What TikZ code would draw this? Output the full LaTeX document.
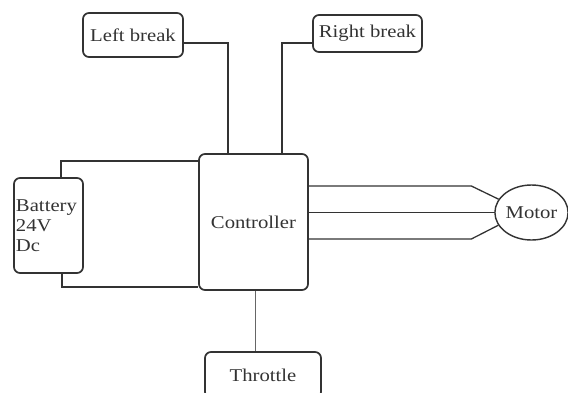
\documentclass[tikz,border=0pt]{standalone}
\usepackage{fontspec}
\setmainfont{Liberation Serif}[FakeStretch=1.15]
\usetikzlibrary{shapes.geometric}
\begin{document}
\begin{tikzpicture}[x=1pt,y=-1pt]
	\useasboundingbox (0,0) rectangle (568,392);
	\begin{scope}[every node/.style={font=\fontsize{18}{20}\selectfont},line width=0.45mm,color=black!80]
		\tikzstyle{box}=[draw,rectangle,rounded corners=6pt,line width=0.6mm,inner sep=0pt];
		\path (133,  35  ) node [box,minimum width=100pt,minimum height=44pt] (lb)   {Left break};
		\path (367.5,33.5) node [box,minimum width=109pt,minimum height=37pt] (rb)   {Right break};
		\path (253.5,222 ) node [box,minimum width=109pt,minimum height=136pt] (ctrl) {Controller};
		\path (48.5,225.5) node [box,minimum height=95pt,text width=65pt,inner xsep=2pt,align=left] (bat) {Battery\\24V\\Dc};
		\path (531.5,212.5) node [draw,ellipse,minimum width=71pt,minimum height=55pt,inner sep=0pt,line width=0.5mm] (mot) {Motor};
		\path (263, 375  ) node [box,minimum width=116pt,minimum height=46pt] (thr)  {Throttle};
		\draw ([yshift=-8pt]lb.east)   -| ([xshift=-25.5pt]ctrl.north);
		\draw ([yshift=-9.5pt]rb.west) -| ([xshift=28.5pt]ctrl.north);
		\draw ([xshift=12.5pt]bat.north) |- ([yshift=61pt]ctrl.west);
		\draw ([xshift=13.5pt]bat.south) |- ([yshift=-65pt]ctrl.west);
		\draw ([yshift=36pt]ctrl.east)  -- ++(162.5,0) -- (mot.158);
		\draw (ctrl.east |- mot.west)   -- (mot.west);
		\draw ([yshift=-17pt]ctrl.east) -- ++(162.5,0) -- (mot.201);
		\draw [line width=0.25mm,black!60] ([xshift=1.5pt]ctrl.south) -- ([xshift=1.5pt]ctrl.south |- thr.north);
	\end{scope}
\end{tikzpicture}
\end{document}
